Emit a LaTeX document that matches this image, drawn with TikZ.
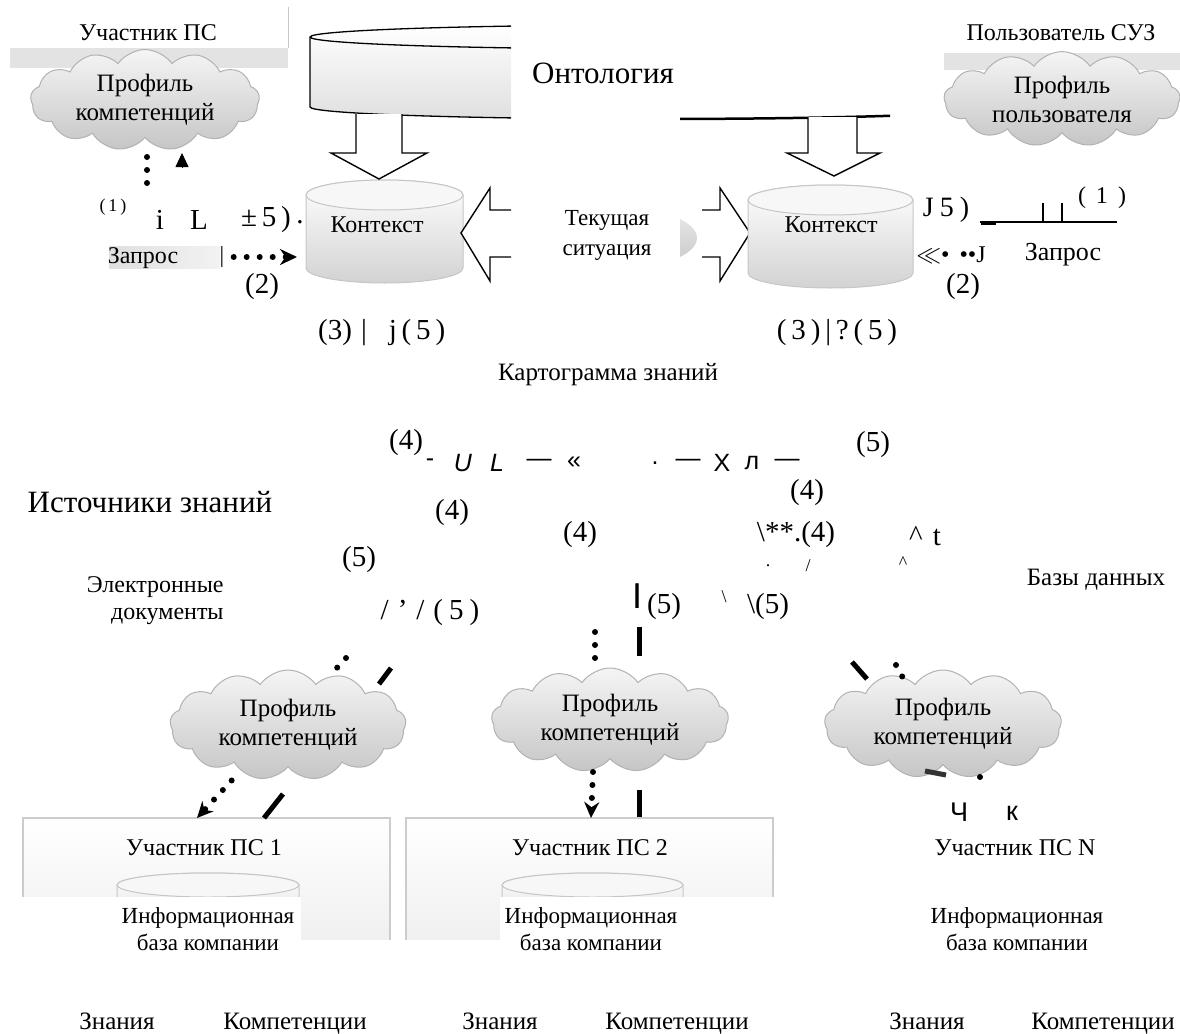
\documentclass[tikz,border=0pt]{standalone}
\usepackage{fontspec}
\setmainfont{Liberation Serif}
\newfontfamily\garbfont{Liberation Sans}
\usepackage{tikz}
\usetikzlibrary{arrows.meta,positioning,shapes}

\begin{document}
\begin{tikzpicture}[x=1pt, y=-1pt, thick,
    every node/.style={inner sep=0pt},
    profile/.style={cloud, cloud puffs=13, cloud puff arc=110, cloud ignores aspect, draw=gray!60, line width=1pt, top color=gray!8, bottom color=gray!45, align=center, inner sep=2pt, font=\fontsize{25}{29}\selectfont},
    lbl/.style={font=\fontsize{24}{27}\selectfont},
    sm/.style={font=\fontsize{23}{27}\selectfont},
    num/.style={font=\fontsize{29}{31}\selectfont},
    tiny/.style={font=\fontsize{18}{20}\selectfont},
    big/.style={font=\fontsize{31}{34}\selectfont},
    garb/.style={font=\garbfont\fontsize{25}{27}\selectfont},
    blk/.style={draw=black, line width=1.4pt, fill=white, line join=miter},
    cyl/.style={draw=gray!45, line width=1pt, top color=white, bottom color=gray!35},
    cylcap/.style={draw=gray!45, line width=1pt, fill=gray!6},
    onto/.style={draw=black, line width=1.3pt, top color=white, bottom color=gray!25},
    boxfill/.style={top color=white, bottom color=gray!12},
    boxline/.style={draw=gray!40, line width=1.2pt},
    dots/.style={line width=6pt, line cap=round, dash pattern=on 0pt off 13pt},
    heavy/.style={line width=5pt},
  ]
  \useasboundingbox (0,0) rectangle (1180,1033);

  % participant (top left)
  \fill[gray!22] (10,48) rectangle (288,68);
  \draw[gray!45, thin] (288,7) -- (288,48);
  \node[lbl] (partTop) at (148,33) {Участник ПС};
  \node[profile, minimum width=229, minimum height=100] (cpTop) at (145,100) {Профиль\\компетенций};
  \draw[dots] (147,157) -- (147,185);
  \draw[-{Triangle[length=14pt,width=13pt]}] (182,168) -- (182,153);

  % ontology
  \begin{scope}
    \clip (300,10) rectangle (511,130);
    \draw[onto] (310,37) -- (310,107) arc[start angle=180, end angle=0, x radius=345, y radius=12]
      -- (1000,37) arc[start angle=0, end angle=-180, x radius=345, y radius=12] -- cycle;
    \draw[line width=1.3pt] (310,37) arc[start angle=180, end angle=0, x radius=345, y radius=12];
  \end{scope}
  \begin{scope}
    \clip (680,95) rectangle (890,130);
    \draw[line width=2.5pt] (310,107) arc[start angle=180, end angle=0, x radius=345, y radius=12];
  \end{scope}
  \node[font=\fontsize{31}{33}\selectfont] (onto) at (603,73) {Онтология};

  % left context
  \draw[cyl] (306,195) -- (306,268) arc[start angle=180, end angle=0, x radius=78.5, y radius=15]
    -- (463,195) arc[start angle=0, end angle=-180, x radius=78.5, y radius=15] -- cycle;
  \draw[cylcap] (384.5,195) ellipse[x radius=78.5, y radius=15];
  \node[lbl] (ctxL) at (377,225) {Контекст};
  \coordinate (cylLw) at (306,257);
  \draw[blk] (356,114) -- (356,153) -- (331,153) -- (379,179) -- (427,153) -- (402,153) -- (402,114);
  \draw[blk] (511,210) -- (490,210) -- (490,188) -- (461,233) -- (490,281) -- (490,257) -- (511,257);

  \node[tiny] (oneL) at (113,207) {(\,1\,)};
  \node[num] (iL) at (160,220) {i};
  \node[num] (lL) at (199,220) {L};
  \node[num] (pmL) at (266,220) {±\,5\,)};
  \node[num] (dotL) at (300,222) {.};
  \shade[left color=gray!25, right color=gray!10] (109,246) rectangle (220,268);
  \node[lbl] (zapL) at (143,258) {Запрос};
  \node[sm] (barL) at (222,257) {|};
  \draw[dots, shorten <=9pt, shorten >=9pt, -{Stealth[length=17pt,width=16pt]}] (barL.east) -- (cylLw);
  \node[num] (twoL) at (262,287) {(2)};

  % current situation
  \node[sm, align=center, font=\fontsize{23}{30}\selectfont] (situ) at (607,235) {Текущая\\ситуация};
  \begin{scope}
    \clip (680,190) rectangle (698,290);
    \shade[top color=gray!15, bottom color=gray!45] (610,238) ellipse[x radius=87, y radius=32];
  \end{scope}
  \draw[blk] (702,210) -- (720,210) -- (720,188) -- (750,233) -- (720,281) -- (720,257) -- (702,257);

  % right context
  \draw[cyl] (748,200) -- (748,273) arc[start angle=180, end angle=0, x radius=82.5, y radius=15]
    -- (913,200) arc[start angle=0, end angle=-180, x radius=82.5, y radius=15] -- cycle;
  \draw[cylcap] (830.5,200) ellipse[x radius=82.5, y radius=15];
  \node[lbl] (ctxR) at (831,225) {Контекст};
  \draw[blk] (808,117) -- (808,153) -- (787,153) -- (834,176) -- (880,153) -- (857,153) -- (857,117);

  % user (top right)
  \node[lbl] (userTop) at (1061,33) {Пользователь СУЗ};
  \fill[gray!22] (944,53) rectangle (1180,70);
  \node[profile, minimum width=236, minimum height=92] (cpUser) at (1062,99) {Профиль\\пользователя};

  \node[num, font=\fontsize{28}{30}\selectfont] (j5R) at (946,210) {J\hspace{6pt}5\hspace{6pt})};
  \coordinate (lnA) at (980,222);
  \coordinate (lnB) at (1117,222);
  \draw[line width=1.6pt] (lnA) -- (lnB);
  \draw[line width=3.5pt] (981,223) -- (996,223);
  \draw[line width=1.3pt] (1043,203) -- (1043,222);
  \draw[line width=1.3pt] (1062,203) -- (1062,222);
  \node[font=\fontsize{24}{26}\selectfont] (oneR) at (1102,198) {(\hspace{10pt}1\hspace{10pt})};
  \node[lbl] (reqR) at (951,255) {$\ll$• \,••J};
  \node[lbl, font=\fontsize{26}{28}\selectfont] (zapR) at (1063,255) {Запрос};
  \node[num] (twoR) at (963,287) {(2)};

  % knowledge map
  \node[num] (c3L) at (335,333) {(3)};
  \node[num] (barC) at (364,333) {|};
  \node[num] (j5L) at (417,333) {j\,(\,5\,)};
  \node[num] (c3R) at (837,333) {(\,3\,)\,|\,?\,(\,5\,)};
  \node[font=\fontsize{25}{27}\selectfont] (kart) at (608,375) {Картограмма знаний};

  \node[num] (m4a) at (406,443) {(4)};
  \foreach \x/\c [count=\i] in {430/-, 463/\itshape U, 497/\itshape L, 539/—, 574/«, 655/., 688/—, 722/X, 752/л, 787/—} {
    \node[garb] (g\i) at (\x,463) {\c};
  }
  \node[num] (m5a) at (873,445) {(5)};

  \node[big] (src) at (150,502) {Источники знаний};
  \node[num] (m4b) at (452,513) {(4)};
  \node[num] (m4c) at (580,535) {(4)};
  \node[num] (m4d) at (807,493) {(4)};
  \node[num] (m4e) at (796,535) {\textbackslash**.(4)};
  \node[num] (hatT) at (925,536) {\textasciicircum\hspace{10pt}t};
  \node[tiny] (mkA) at (768,566) {.};
  \node[tiny] (mkB) at (808,566) {/};
  \node[tiny] (mkC) at (903,563) {\textasciicircum};
  \node[num] (m5b) at (359,560) {(5)};
  \node[sm, font=\fontsize{24}{27}\selectfont, align=right, anchor=east] (edoc) at (224,601) {Электронные\\документы};
  \node[num] (m5c) at (430,613) {/\hspace{9pt}'\hspace{9pt}/\hspace{9pt}(\hspace{6pt}5\hspace{6pt})};
  \node[garb, font=\garbfont\fontsize{36}{38}\selectfont] (barI) at (637,596) {I};
  \node[num] (m5d) at (664,607) {(5)};
  \node[tiny] (bsA) at (724,597) {\textbackslash};
  \node[num] (m5e) at (768,607) {\textbackslash(5)};
  \node[font=\fontsize{25}{27}\selectfont] (bd) at (1096,580) {Базы данных};

  % participants 1 and 2
  \fill[boxfill] (23,818) rectangle (390,940);
  \draw[boxline] (23,940) -- (23,818) -- (390,818) -- (390,940);
  \draw[cyl] (117,885) -- (117,945) -- (299,945) -- (299,885) arc[start angle=0, end angle=-180, x radius=91, y radius=12] -- cycle;
  \draw[cylcap] (208,885) ellipse[x radius=91, y radius=12];
  \fill[boxfill] (406,818) rectangle (773,940);
  \draw[boxline] (406,940) -- (406,818) -- (773,818) -- (773,940);
  \draw[cyl] (502,885) -- (502,945) -- (683,945) -- (683,885) arc[start angle=0, end angle=-180, x radius=90.5, y radius=12] -- cycle;
  \draw[cylcap] (592.5,885) ellipse[x radius=90.5, y radius=12];
  \fill[white] (18,897) rectangle (301,950);
  \fill[white] (500,897) rectangle (778,950);
  \fill[white] (0,940) rectangle (1180,1033);

  \node[lbl] (p1) at (204,848) {Участник ПС 1};
  \node[lbl] (p2) at (590,848) {Участник ПС 2};
  \node[lbl] (pN) at (1015,848) {Участник ПС N};
  \foreach \x/\nm in {208/1, 591/2, 1017/N} {
    \node[sm, align=center] (ib\nm) at (\x,929) {Информационная\\база компании};
  }

  % competence profiles
  \node[profile, minimum width=236, minimum height=110] (cp1) at (288,725) {Профиль\\компетенций};
  \node[profile, minimum width=237, minimum height=104] (cp2) at (610,720) {Профиль\\компетенций};
  \node[profile, minimum width=237, minimum height=108] (cp3) at (943,724) {Профиль\\компетенций};

  \coordinate (b1top) at (197,818);
  \draw[dots] (346,658) -- (335,670);
  \draw[heavy] (379,684) -- (391,668);
  \draw[dots, shorten <=2pt, -{Stealth[length=16pt,width=15pt]}] (233,779) -- (b1top);
  \draw[heavy] (264,818) -- (283,794);

  \coordinate (b2top) at (591,818);
  \draw[dots] (595,632) -- (595,665);
  \draw[heavy] (639,627) -- (639,656);
  \draw[dots, -{Stealth[length=16pt,width=15pt]}] (593,772) -- (b2top);
  \draw[heavy] (639,790) -- (639,817);

  \draw[heavy] (852,662) -- (867,679);
  \draw[dots] (896,665) -- (903,678);
  \draw[line width=5pt, gray!40!black] (925,771) -- (946,775);
  \draw[dots] (980,777) -- (980,778);
  \node[garb, font=\garbfont\fontsize{27}{29}\selectfont] (chU) at (959,812) {Ч};
  \node[garb, font=\garbfont\fontsize{27}{29}\selectfont] (chK) at (1012,813) {к};

  % bottom row
  \foreach \x/\t/\nm in {117/Знания/kn1, 295/Компетенции/co1, 500/Знания/kn2, 677/Компетенции/co2, 927/Знания/kn3, 1103/Компетенции/co3} {
    \node[font=\fontsize{25}{27}\selectfont, anchor=base] (\nm) at (\x,1029) {\t};
  }
\end{tikzpicture}
\end{document}
